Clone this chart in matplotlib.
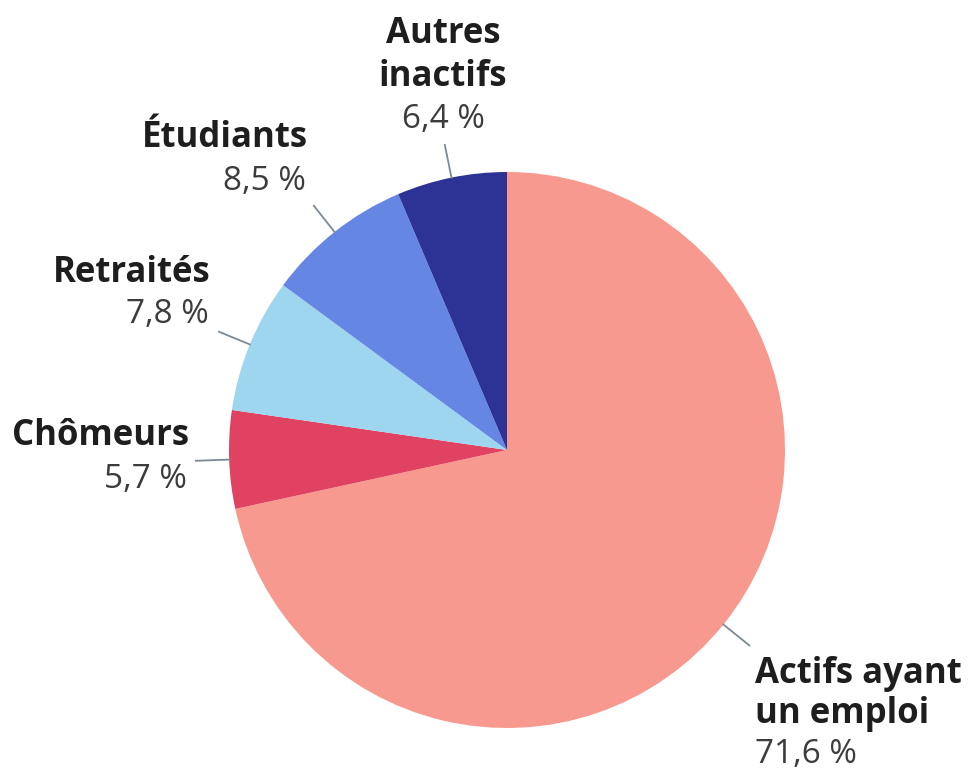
import matplotlib
matplotlib.use("Agg")
import matplotlib.pyplot as plt
import numpy as np

# data (clockwise from 12 o'clock)
categories = ["Actifs ayant\nun emploi", "Chômeurs", "Retraités", "Étudiants", "Autres\ninactifs"]
shares = [71.6, 5.7, 7.8, 8.5, 6.4]
pct_labels = ["71,6 %", "5,7 %", "7,8 %", "8,5 %", "6,4 %"]
colors = ["#F7998E", "#E04262", "#9DD6EE", "#6686E3", "#2C3394"]

plt.rcParams['font.family'] = ['Open Sans', 'DejaVu Sans']

W, H = 969, 776
fig = plt.figure(figsize=(W / 100, H / 100), dpi=100)
ax = fig.add_axes([0, 0, 1, 1])

cx, cy, r = 507, H - 450, 278
wedges, _ = ax.pie(shares, colors=colors, startangle=90, counterclock=False,
                   center=(cx, cy), radius=r, frame=True,
                   wedgeprops=dict(linewidth=0))
ax.set_xlim(0, W)
ax.set_ylim(0, H)
ax.set_aspect('equal')
ax.axis('off')

# leader lines, radial from the middle of each wedge
for w in wedges:
    ang = np.deg2rad((w.theta1 + w.theta2) / 2)
    x0, y0 = cx + r * np.cos(ang), cy + r * np.sin(ang)
    x1, y1 = cx + r * 1.12 * np.cos(ang), cy + r * 1.12 * np.sin(ang)
    ax.plot([x0, x1], [y0, y1], color="#7A8A94", lw=1.3)

# label anchor: x, baseline of each text line (image px from top), alignment
label_pos = [
    (755, [683, 723, 763], 'left'),
    (189, [445, 488], 'right'),
    (211, [282, 323], 'right'),
    (308, [147, 190], 'right'),
    (443, [43, 86, 128], 'center'),
]
for name, pct, (x, ys, ha) in zip(categories, pct_labels, label_pos):
    lines = name.split('\n')
    for line, y in zip(lines, ys):
        ax.text(x, H - y, line, ha=ha, va='baseline', fontsize=25,
                fontweight='bold', color="#1E1E1E")
    ax.text(x if ha != 'right' else x - 2, H - ys[-1], pct, ha=ha,
            va='baseline', fontsize=24, color="#3C3C3C")

fig.savefig("out.png", dpi=100)
